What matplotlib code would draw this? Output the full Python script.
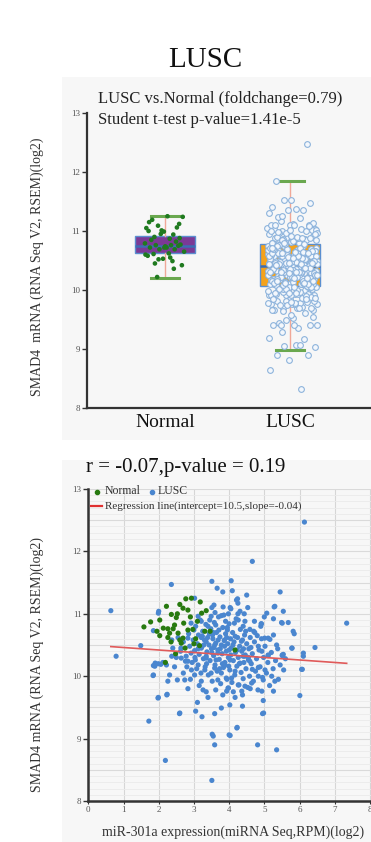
import matplotlib
matplotlib.use("Agg")
import matplotlib.pyplot as plt
from matplotlib.patches import Rectangle
from matplotlib.lines import Line2D
from matplotlib.ticker import MultipleLocator

plt.rcParams['font.family'] = ['Liberation Serif', 'DejaVu Serif']

# ---- data ----
groups = ["Normal", "LUSC"]
box_q1 = [10.62, 10.06]
box_med = [10.74, 10.41]
box_q3 = [10.92, 10.78]
box_low = [10.20, 8.98]
box_high = [11.25, 11.84]

foldchange = 0.79
ttest_p = "1.41e-5"
corr_r = -0.07
corr_p = 0.19
reg_intercept = 10.5
reg_slope = -0.04

# (miR-301a log2 RPM, SMAD4 log2 RSEM) per sample
normal_pairs = [
    (1.58, 10.79), (1.77, 10.87), (2.03, 10.90), (2.22, 11.12), (2.36, 10.99),
    (2.53, 11.00), (2.50, 10.94), (2.69, 11.09), (2.77, 11.24), (2.93, 11.25),
    (3.18, 11.19), (2.83, 11.06), (3.22, 11.01), (3.35, 11.05), (2.26, 10.76),
    (2.41, 10.76), (2.13, 10.77), (2.83, 10.74), (3.31, 10.72), (2.31, 10.69),
    (2.55, 10.69), (2.03, 10.65), (2.26, 10.62), (2.69, 10.61), (2.97, 10.75),
    (2.64, 10.53), (2.60, 10.58), (3.16, 10.49), (2.19, 10.22), (4.17, 10.42),
    (3.46, 10.72), (2.71, 10.85), (2.45, 10.82), (2.90, 10.95), (3.05, 10.60),
    (2.35, 10.55), (2.75, 10.45), (3.10, 10.88), (1.95, 10.72), (2.60, 11.15),
    (2.48, 10.36), (3.00, 10.52),
]

lusc_pairs = [
    (0.64, 11.05), (0.79, 10.32), (1.49, 10.49), (2.36, 11.47), (3.51, 11.52),
    (3.66, 11.41), (3.82, 11.35), (4.06, 11.53), (2.00, 11.04), (4.09, 11.37),
    (4.66, 11.84), (6.14, 12.47), (5.45, 11.35), (4.50, 11.30), (4.21, 11.22),
    (4.25, 11.17), (5.07, 11.01), (5.30, 11.12), (5.54, 11.04), (5.49, 10.86),
    (5.68, 10.86), (5.82, 10.72), (5.85, 10.68), (7.34, 10.85), (6.44, 10.46),
    (6.11, 10.37), (6.11, 10.32), (6.06, 10.11), (6.01, 9.69), (5.79, 10.45),
    (5.54, 10.35), (5.35, 10.50), (5.38, 10.44), (5.26, 10.66), (5.01, 10.61),
    (5.11, 10.61), (4.92, 10.84), (4.73, 10.70), (4.93, 9.76), (4.98, 9.41),
    (4.22, 9.17), (4.03, 9.05), (3.55, 9.04), (3.52, 9.07), (3.59, 8.90),
    (4.81, 8.90), (5.35, 8.82), (2.19, 8.65), (3.51, 8.33), (1.72, 9.28),
    (4.02, 9.54), (4.38, 9.52), (4.17, 9.66), (4.97, 9.61), (3.78, 9.49),
    (3.59, 9.40), (3.23, 9.35), (3.05, 9.44), (2.59, 9.40), (3.10, 9.58),
    (3.40, 9.66), (2.24, 9.71), (1.98, 9.65), (2.26, 9.92), (2.53, 9.94),
    (2.74, 9.94), (2.83, 9.80), (3.02, 10.02), (3.21, 9.92), (3.26, 9.78),
    (1.84, 10.01), (2.31, 10.02), (1.89, 10.16), (2.06, 10.19), (2.22, 10.18),
    (1.85, 10.73), (1.99, 11.01), (2.23, 9.70), (4.24, 11.24), (4.03, 11.10),
    (4.53, 11.10), (5.28, 11.11), (4.31, 11.04), (4.43, 11.00), (5.26, 10.92),
    (5.51, 10.85), (4.72, 10.88), (4.91, 10.84), (4.26, 10.90), (4.59, 10.75),
    (4.40, 10.80), (5.16, 10.59), (5.78, 10.45), (5.51, 10.34), (5.11, 10.34),
    (4.83, 10.48), (4.93, 10.40), (4.45, 10.32), (4.59, 10.24), (5.11, 10.33),
    (5.51, 10.33), (6.08, 10.11), (4.23, 9.18), (4.00, 9.06), (4.95, 9.40),
    (4.66, 10.11), (4.83, 10.14), (5.02, 10.10), (5.21, 10.00), (5.30, 9.92),
    (5.26, 9.76), (4.97, 9.94), (4.83, 10.00), (4.64, 9.89), (4.45, 9.84),
    (4.36, 9.76), (4.26, 9.86), (4.07, 9.97), (3.98, 9.81), (3.93, 9.76),
    (4.17, 10.08), (4.31, 10.21), (4.55, 10.26), (4.40, 10.32), (4.03, 10.26),
    (3.88, 10.18), (2.64, 10.29), (2.83, 10.24), (3.12, 10.18), (3.35, 10.29),
    (3.59, 10.13), (3.78, 10.05), (3.92, 9.97), (3.97, 9.81), (3.68, 9.94),
    (3.49, 10.05), (2.93, 10.10), (3.31, 10.10), (3.02, 11.25), (3.57, 11.14),
    (3.51, 11.10), (3.83, 11.11), (3.98, 11.00), (3.78, 10.97), (3.49, 10.96),
    (3.21, 10.88), (3.12, 10.96), (3.90, 10.88), (3.62, 10.82), (3.40, 10.80),
    (3.71, 10.74), (3.95, 10.74), (3.53, 10.66), (3.24, 10.64), (3.00, 10.74),
    (2.83, 10.61), (2.37, 10.58), (2.63, 10.45), (2.92, 10.37), (2.37, 10.32),
    (3.21, 10.45), (3.59, 10.50), (3.87, 10.58), (4.00, 10.42), (3.68, 10.37),
    (3.35, 10.32), (3.04, 10.26), (2.76, 10.24), (1.90, 10.21), (2.12, 10.22),
    (1.85, 10.17), (1.99, 10.20), (1.85, 10.02), (1.99, 9.66), (2.60, 9.41),
    (2.62, 10.40), (2.70, 10.55), (2.78, 10.32), (2.85, 10.68), (2.88, 10.48),
    (2.95, 10.22), (2.98, 10.58), (3.02, 10.41), (3.05, 10.80), (3.08, 10.12),
    (3.10, 10.52), (3.13, 10.66), (3.15, 10.35), (3.18, 10.90), (3.20, 10.05),
    (3.22, 10.47), (3.25, 10.72), (3.27, 10.28), (3.30, 10.58), (3.32, 10.15),
    (3.34, 10.83), (3.37, 10.39), (3.39, 10.62), (3.41, 10.02), (3.43, 10.50),
    (3.46, 10.25), (3.48, 10.76), (3.50, 10.44), (3.52, 9.92), (3.54, 10.60),
    (3.56, 10.33), (3.58, 10.86), (3.60, 10.18), (3.62, 10.53), (3.64, 10.70),
    (3.66, 10.08), (3.68, 10.42), (3.70, 10.95), (3.72, 10.27), (3.74, 10.63),
    (3.76, 9.88), (3.78, 10.50), (3.80, 10.36), (3.82, 10.78), (3.84, 10.14),
    (3.86, 10.57), (3.88, 10.22), (3.90, 10.68), (3.92, 10.40), (3.94, 9.95),
    (3.96, 10.52), (3.98, 10.30), (4.00, 10.84), (4.02, 10.10), (4.04, 10.60),
    (4.06, 10.45), (4.08, 9.90), (4.10, 10.70), (4.12, 10.25), (4.14, 10.55),
    (4.16, 10.02), (4.18, 10.38), (4.20, 10.92), (4.22, 10.16), (4.24, 10.62),
    (4.26, 10.30), (4.28, 9.86), (4.30, 10.48), (4.32, 10.75), (4.34, 10.06),
    (4.36, 10.40), (4.38, 10.58), (4.40, 9.96), (4.42, 10.22), (4.44, 10.66),
    (4.46, 10.34), (4.48, 10.12), (4.50, 10.52), (4.53, 9.82), (4.56, 10.44),
    (4.58, 10.00), (4.60, 10.62), (4.63, 10.20), (4.66, 10.36), (4.69, 9.92),
    (4.72, 10.55), (4.75, 10.08), (4.78, 10.28), (4.82, 9.78), (4.85, 10.42),
    (4.88, 10.15), (4.92, 10.60), (4.95, 9.98), (4.98, 10.30), (5.02, 10.48),
    (5.06, 10.05), (5.10, 10.22), (5.15, 9.85), (5.20, 10.38), (5.25, 10.12),
    (5.32, 10.25), (5.40, 9.95), (5.45, 10.18), (5.55, 10.10), (5.60, 10.28),
    (3.03, 10.30), (3.12, 10.44), (3.21, 10.62), (3.28, 10.50), (3.36, 10.20),
    (3.44, 10.68), (3.51, 10.38), (3.57, 10.46), (3.63, 10.26), (3.69, 10.58),
    (3.75, 10.44), (3.81, 10.20), (3.87, 10.48), (3.93, 10.62), (3.99, 10.16),
    (4.05, 10.34), (4.11, 10.50), (4.17, 10.64), (4.23, 10.42), (4.29, 10.20),
    (4.35, 10.56), (4.41, 10.44), (4.47, 10.72), (4.55, 10.30), (4.62, 10.46),
    (3.35, 10.55), (3.55, 10.70), (3.73, 10.12), (3.95, 10.78), (4.15, 10.85),
    (3.45, 10.90), (3.85, 10.98), (4.05, 11.08), (3.60, 11.02), (4.25, 11.00),
    (4.45, 10.88), (2.92, 10.85), (2.80, 10.15), (2.70, 10.05), (2.90, 9.95),
    (3.15, 9.85), (3.35, 9.75), (3.62, 9.78), (3.82, 9.70), (4.12, 9.75),
    (4.38, 9.70), (4.60, 9.80), (4.70, 10.72), (4.80, 10.65), (4.90, 10.80),
    (5.00, 10.95), (2.50, 10.30), (2.45, 10.15), (2.55, 10.62), (2.40, 10.45),
]

normal_mir = [p[0] for p in normal_pairs]
normal_smad = [p[1] for p in normal_pairs]
lusc_mir = [p[0] for p in lusc_pairs]
lusc_smad = [p[1] for p in lusc_pairs]

# ---- figure ----
W, H = 371, 842
fig = plt.figure(figsize=(W / 100, H / 100), dpi=100)
fig.patch.set_facecolor("white")


def fx(px):
    return px / W


def fy(py):
    return 1 - py / H


# light grey panel backgrounds
for top, bot in [(77, 440), (460, 842)]:
    fig.add_artist(Rectangle((fx(62), fy(bot)), 1.0, fy(top) - fy(bot),
                             transform=fig.transFigure, facecolor="#f7f7f7",
                             edgecolor="none", zorder=-10))

ink = "#333333"

# ---- top: box plot ----
ax1 = fig.add_axes([fx(86.7), fy(408), fx(400) - fx(86.7), fy(113) - fy(408)])
ax1.set_facecolor("none")

stats = []
for i, g in enumerate(groups):
    stats.append(dict(label=g, q1=box_q1[i], med=box_med[i], q3=box_q3[i],
                      whislo=box_low[i], whishi=box_high[i], fliers=[]))
bp = ax1.bxp(stats, positions=[0, 1], widths=0.48, capwidths=0.22,
             patch_artist=True, showfliers=False,
             boxprops=dict(edgecolor="#5b8fd0", linewidth=1.0),
             medianprops=dict(color="#3c6db4", linewidth=1.8),
             whiskerprops=dict(color="#f0a898", linewidth=1.0),
             capprops=dict(color="#6aa84f", linewidth=2.2))
for patch, fc in zip(bp["boxes"], ["#7b3a96", "#f4a21c"]):
    patch.set_facecolor(fc)
    patch.set_zorder(2)


def spread(n, half):
    # deterministic horizontal jitter
    return [((i * 0.6180339887) % 1.0 - 0.5) * 2 * half for i in range(n)]


ax1.scatter([0 + d for d in spread(len(normal_smad), 0.16)], normal_smad,
            s=11, color="#1f7a1f", edgecolors="none", zorder=4)
ax1.scatter([1 + 0.02 + d for d in spread(len(lusc_smad), 0.2)], lusc_smad,
            s=17, facecolor="#f3f7fc", edgecolors="#8db3dc", linewidths=0.8,
            zorder=4)

ax1.set_xlim(-0.626, 1.88)
ax1.set_ylim(8, 13)
ax1.set_yticks([8, 9, 10, 11, 12, 13])
ax1.set_xticks([0, 1])
ax1.set_xticklabels(groups, fontsize=14, color="#111111")
ax1.tick_params(axis="x", length=0, pad=4)
ax1.tick_params(axis="y", length=3.5, width=1, colors=ink, labelsize=6.5,
                labelcolor="#555555", pad=1.5)
for s in ["top", "right"]:
    ax1.spines[s].set_visible(False)
for s in ["left", "bottom"]:
    ax1.spines[s].set_linewidth(1.6)
    ax1.spines[s].set_color(ink)

fig.text(fx(205), fy(60), "LUSC", fontsize=21, ha="center", va="center",
         color="#111111")
fig.text(fx(98), fy(99), f"LUSC vs.Normal (foldchange={foldchange})",
         fontsize=12, ha="left", va="center", color="#222222")
fig.text(fx(98), fy(120), f"Student t-test p-value={ttest_p}",
         fontsize=12, ha="left", va="center", color="#222222")
fig.text(fx(37), fy(267), "SMAD4  mRNA (RNA Seq V2, RSEM)(log2)",
         fontsize=10, rotation=90, ha="center", va="center", color="#333333")

# ---- bottom: scatter ----
ax2 = fig.add_axes([fx(88.3), fy(801), fx(387.5) - fx(88.3), fy(489) - fy(801)])
ax2.set_facecolor("none")
ax2.set_xlim(0, 8.5)
ax2.set_ylim(8, 13)
ax2.xaxis.set_major_locator(MultipleLocator(1))
ax2.yaxis.set_major_locator(MultipleLocator(1))
ax2.yaxis.set_minor_locator(MultipleLocator(0.1))

for v in range(1, 9):
    ax2.axvline(v, color="#d6d6d6", linewidth=0.8, zorder=0)
for k in range(1, 51):
    yv = 8 + k * 0.1
    major = k % 5 == 0
    ax2.axhline(yv, color="#dadada" if major else "#ebebeb",
                linewidth=0.8 if major else 0.6, zorder=0)

ax2.scatter(lusc_mir, lusc_smad, s=14, color="#4a86cf", edgecolors="none",
            zorder=3)
ax2.scatter(normal_mir, normal_smad, s=14, color="#287a10", edgecolors="none",
            zorder=4)

all_mir = lusc_mir + normal_mir
x0, x1 = min(all_mir), max(all_mir)
ax2.plot([x0, x1], [reg_intercept + reg_slope * x0, reg_intercept + reg_slope * x1],
         color="#e05a5a", linewidth=1.2, zorder=5)

ax2.tick_params(axis="both", which="minor", length=0)
ax2.tick_params(axis="y", which="major", length=3.5, width=1, colors=ink,
                labelsize=6.5, labelcolor="#555555", pad=1.5)
ax2.tick_params(axis="x", which="major", length=2, width=0.8, colors=ink,
                labelsize=6.5, labelcolor="#555555", pad=1.5)
for s in ["top", "right"]:
    ax2.spines[s].set_visible(False)
for s in ["left", "bottom"]:
    ax2.spines[s].set_linewidth(1.8)
    ax2.spines[s].set_color(ink)

fig.text(fx(86), fy(468), f"r = {corr_r},p-value = {corr_p}", fontsize=15,
         ha="left", va="center", color="#111111")
fig.text(fx(37), fy(665), "SMAD4 mRNA (RNA Seq V2, RSEM)(log2)",
         fontsize=10, rotation=90, ha="center", va="center", color="#333333")
fig.text(fx(102), fy(832), "miR-301a expression(miRNA Seq,RPM)(log2)",
         fontsize=10, ha="left", va="center", color="#333333")

# legend drawn by hand
fig.add_artist(Line2D([fx(97)], [fy(491.5)], marker="o", markersize=3,
                      color="#287a10", linestyle="none",
                      transform=fig.transFigure))
fig.text(fx(105), fy(491.5), "Normal", fontsize=8.5, ha="left", va="center",
         color="#333333")
fig.add_artist(Line2D([fx(152)], [fy(491.5)], marker="o", markersize=3,
                      color="#4a86cf", linestyle="none",
                      transform=fig.transFigure))
fig.text(fx(158), fy(491.5), "LUSC", fontsize=8.5, ha="left", va="center",
         color="#333333")
fig.add_artist(Line2D([fx(91), fx(102)], [fy(506.5), fy(506.5)],
                      color="#e03030", linewidth=1.6,
                      transform=fig.transFigure))
fig.text(fx(105), fy(506.5),
         f"Regression line(intercept={reg_intercept},slope={reg_slope})",
         fontsize=8, ha="left", va="center", color="#333333")

fig.savefig("out.png", dpi=100)
